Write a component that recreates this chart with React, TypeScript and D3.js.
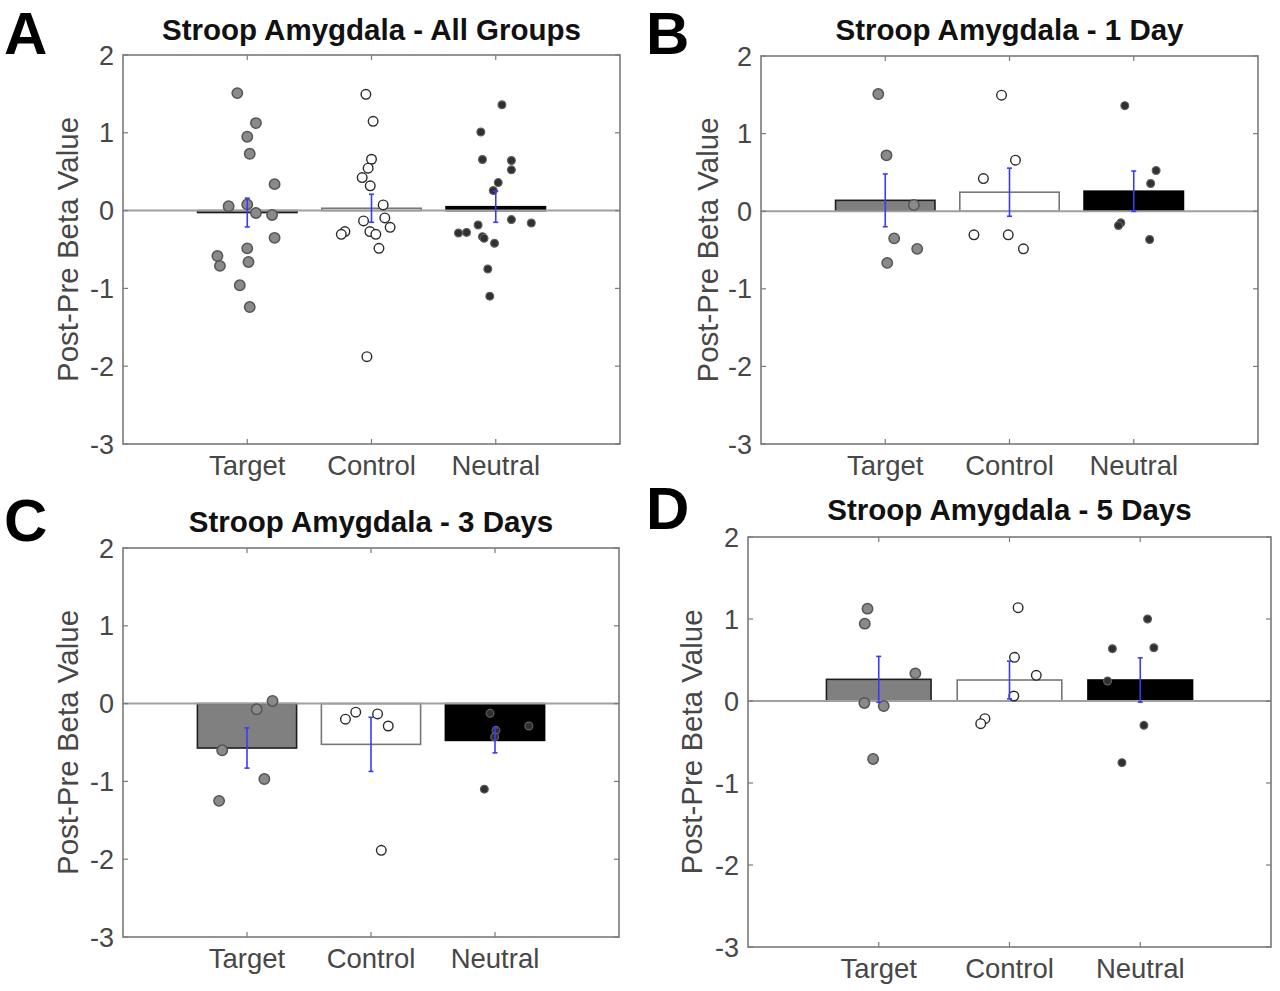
import React from "react";
import * as d3 from "d3";

// ---------- data ----------
const categories = ["Target", "Control", "Neutral"];
const yTicks = [2, 1, 0, -1, -2, -3];
const panelLetters = ["A", "B", "C", "D"];
const panelTitles = [
  "Stroop Amygdala - All Groups",
  "Stroop Amygdala - 1 Day",
  "Stroop Amygdala - 3 Days",
  "Stroop Amygdala - 5 Days",
];
const yLabel = "Post-Pre Beta Value";

// bar means and SEMs: [Target, Control, Neutral]
const allMeans = [-0.025, 0.03, 0.05];
const allSems = [0.185, 0.18, 0.2];
const day1Means = [0.14, 0.245, 0.258];
const day1Sems = [0.34, 0.31, 0.26];
const day3Means = [-0.571, -0.524, -0.473];
const day3Sems = [0.258, 0.348, 0.16];
const day5Means = [0.264, 0.256, 0.256];
const day5Sems = [0.28, 0.23, 0.27];

// individual points: [jitter offset from category centre, value]
const allTarget: [number, number][] = [
  [-0.08, 1.51], [0.07, 1.125], [0.0, 0.95], [0.02, 0.73], [0.22, 0.34],
  [-0.15, 0.056], [0.0, 0.08], [0.07, -0.03], [0.2, -0.056], [0.22, -0.35],
  [0.0, -0.485], [-0.24, -0.584], [-0.22, -0.71], [0.01, -0.66], [-0.06, -0.96],
  [0.02, -1.24],
];
const allControl: [number, number][] = [
  [-0.045, 1.495], [0.013, 1.147], [0.0, 0.66], [-0.027, 0.545], [-0.075, 0.425],
  [-0.01, 0.318], [0.094, 0.073], [0.107, -0.094], [-0.064, -0.133], [0.15, -0.215],
  [-0.013, -0.27], [0.035, -0.305], [-0.214, -0.27], [-0.243, -0.305], [0.06, -0.485],
  [-0.037, -1.877],
];
const allNeutral: [number, number][] = [
  [0.05, 1.36], [-0.12, 1.01], [-0.107, 0.657], [0.126, 0.644], [0.126, 0.524],
  [0.02, 0.36], [-0.02, 0.258], [0.126, -0.116], [0.286, -0.159], [-0.142, -0.185],
  [-0.3, -0.288], [-0.235, -0.28], [-0.107, -0.335], [-0.094, -0.357], [-0.01, -0.42],
  [-0.064, -0.75], [-0.048, -1.1],
];
const day1Target: [number, number][] = [
  [-0.056, 1.51], [0.01, 0.72], [0.23, 0.08], [0.072, -0.35], [0.257, -0.485], [0.016, -0.666],
];
const day1Control: [number, number][] = [
  [-0.064, 1.495], [0.048, 0.657], [-0.21, 0.42], [-0.286, -0.305], [-0.01, -0.305], [0.112, -0.485],
];
const day1Neutral: [number, number][] = [
  [-0.072, 1.36], [0.18, 0.524], [0.136, 0.357], [-0.104, -0.15], [-0.123, -0.185], [0.128, -0.365],
];
const day3Target: [number, number][] = [
  [0.206, 0.034], [0.078, -0.073], [-0.2, -0.6], [0.14, -0.97], [-0.225, -1.25],
];
const day3Control: [number, number][] = [
  [-0.123, -0.11], [-0.206, -0.2], [0.053, -0.133], [0.139, -0.288], [0.083, -1.886],
];
const day3Neutral: [number, number][] = [
  [-0.04, -0.125], [0.273, -0.288], [0.008, -0.344], [-0.003, -0.43], [-0.086, -1.1],
];
const day5Target: [number, number][] = [
  [-0.086, 1.126], [-0.107, 0.943], [0.28, 0.337], [-0.11, -0.024], [0.038, -0.061], [-0.043, -0.707],
];
const day5Control: [number, number][] = [
  [0.066, 1.138], [0.038, 0.533], [0.205, 0.313], [0.033, 0.061], [-0.188, -0.215], [-0.22, -0.276],
];
const day5Neutral: [number, number][] = [
  [0.056, 1.0], [-0.213, 0.638], [0.104, 0.65], [-0.25, 0.244], [0.028, -0.297], [-0.14, -0.752],
];

// ---------- layout / style ----------
const layouts = [
  { x: 123, y: 55, w: 497, h: 389, letterX: 4, letterY: 54, titleY: 40, ylabX: 78 },
  { x: 761, y: 56, w: 497, h: 388, letterX: 646, letterY: 54, titleY: 40, ylabX: 718 },
  { x: 123, y: 548, w: 496, h: 389, letterX: 4, letterY: 541, titleY: 532, ylabX: 78 },
  { x: 748, y: 537, w: 523, h: 410, letterX: 646, letterY: 529, titleY: 520, ylabX: 702 },
];

const panelData = [
  { means: allMeans, sems: allSems, pts: [allTarget, allControl, allNeutral] },
  { means: day1Means, sems: day1Sems, pts: [day1Target, day1Control, day1Neutral] },
  { means: day3Means, sems: day3Sems, pts: [day3Target, day3Control, day3Neutral] },
  { means: day5Means, sems: day5Sems, pts: [day5Target, day5Control, day5Neutral] },
];

const barStyles = [
  { fill: "#808080", stroke: "#1e1e1e" },
  { fill: "#ffffff", stroke: "#777777" },
  { fill: "#000000", stroke: "#000000" },
];
const markerStyles = [
  { fill: "#8a8a8a", stroke: "#555555", r: 5.2, sw: 1.5 },
  { fill: "#ffffff", stroke: "#2a2a2a", r: 4.8, sw: 1.4 },
  { fill: "#303030", stroke: "#606060", r: 3.9, sw: 1.2 },
];

const FONT = "'Liberation Sans', Arial, Helvetica, sans-serif";
const AXIS_GRAY = "#7a7a7a";
const TEXT_GRAY = "#474747";

function Panel({ idx }: { idx: number }) {
  const L = layouts[idx];
  const D = panelData[idx];
  const x = d3.scaleLinear().domain([0, 4]).range([L.x, L.x + L.w]);
  const y = d3.scaleLinear().domain([-3, 2]).range([L.y + L.h, L.y]);
  const cx = L.x + L.w / 2;
  const tickLen = 5;
  return (
    <g>
      {/* panel letter */}
      <text x={L.letterX} y={L.letterY} fontFamily={FONT} fontWeight="bold" fontSize={60} fill="#000">
        {panelLetters[idx]}
      </text>
      {/* title */}
      <text x={cx} y={L.titleY} textAnchor="middle" fontFamily={FONT} fontWeight="bold" fontSize={29.5} fill="#111">
        {panelTitles[idx]}
      </text>
      {/* axes box background */}
      <rect x={L.x} y={L.y} width={L.w} height={L.h} fill="#fff" stroke="none" />
      {/* bars */}
      {D.means.map((m, i) => {
        const x0 = x(i + 1 - 0.4);
        const x1 = x(i + 1 + 0.4);
        const yTop = Math.min(y(m), y(0));
        const hgt = Math.abs(y(m) - y(0));
        return (
          <rect key={"b" + i} x={x0} y={yTop} width={x1 - x0} height={Math.max(hgt, 0.5)}
            fill={barStyles[i].fill} stroke={barStyles[i].stroke} strokeWidth={1.6} />
        );
      })}
      {/* zero line */}
      <line x1={L.x} x2={L.x + L.w} y1={y(0)} y2={y(0)} stroke="#a0a0a0" strokeWidth={2} />
      {/* points */}
      {D.pts.map((arr, i) =>
        arr.map((p, j) => (
          <circle key={"p" + i + "_" + j} cx={x(i + 1 + p[0])} cy={y(p[1])} r={markerStyles[i].r}
            fill={markerStyles[i].fill} stroke={markerStyles[i].stroke} strokeWidth={markerStyles[i].sw} />
        ))
      )}
      {/* error bars */}
      {D.means.map((m, i) => {
        const xc = x(i + 1);
        const lo = y(m - D.sems[i]);
        const hi = y(m + D.sems[i]);
        return (
          <g key={"e" + i} stroke="#3b3bf5" strokeWidth={1.6}>
            <line x1={xc} x2={xc} y1={lo} y2={hi} />
            <line x1={xc - 2.5} x2={xc + 2.5} y1={lo} y2={lo} />
            <line x1={xc - 2.5} x2={xc + 2.5} y1={hi} y2={hi} />
          </g>
        );
      })}
      {/* box */}
      <rect x={L.x} y={L.y} width={L.w} height={L.h} fill="none" stroke={AXIS_GRAY} strokeWidth={1.6} />
      {/* x ticks */}
      {categories.map((c, i) => (
        <g key={"xt" + i}>
          <line x1={x(i + 1)} x2={x(i + 1)} y1={L.y + L.h} y2={L.y + L.h - tickLen} stroke={AXIS_GRAY} strokeWidth={1.2} />
          <line x1={x(i + 1)} x2={x(i + 1)} y1={L.y} y2={L.y + tickLen} stroke={AXIS_GRAY} strokeWidth={1.2} />
          <text x={x(i + 1)} y={L.y + L.h + 31} textAnchor="middle" fontFamily={FONT} fontSize={27.5} fill={TEXT_GRAY}>
            {c}
          </text>
        </g>
      ))}
      {/* y ticks */}
      {yTicks.map((t) => (
        <g key={"yt" + t}>
          <line x1={L.x} x2={L.x + tickLen} y1={y(t)} y2={y(t)} stroke={AXIS_GRAY} strokeWidth={1.2} />
          <line x1={L.x + L.w} x2={L.x + L.w - tickLen} y1={y(t)} y2={y(t)} stroke={AXIS_GRAY} strokeWidth={1.2} />
          <text x={L.x - 9} y={y(t) + 9.5} textAnchor="end" fontFamily={FONT} fontSize={27} fill={TEXT_GRAY}>
            {t}
          </text>
        </g>
      ))}
      {/* y label */}
      <text transform={`translate(${L.ylabX},${L.y + L.h / 2}) rotate(-90)`} textAnchor="middle"
        fontFamily={FONT} fontSize={29.5} fill={TEXT_GRAY}>
        {yLabel}
      </text>
    </g>
  );
}

export default function App() {
  return (
    <svg width={1280} height={991} style={{ position: "absolute", left: 0, top: 0, background: "#fff" }}>
      <rect x={0} y={0} width={1280} height={991} fill="#fff" />
      {[0, 1, 2, 3].map((i) => (
        <Panel key={i} idx={i} />
      ))}
    </svg>
  );
}
